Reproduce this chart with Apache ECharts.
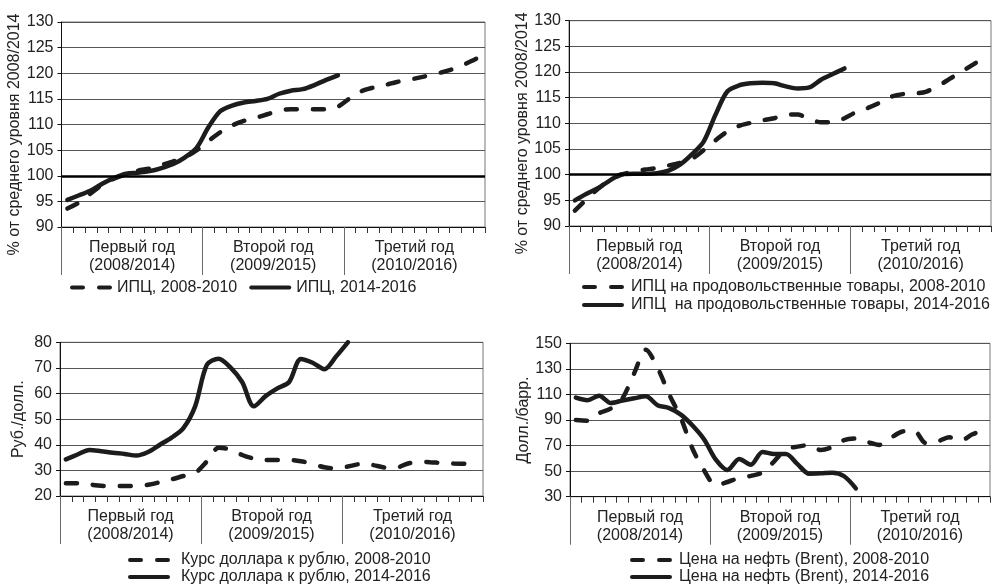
<!DOCTYPE html>
<html><head><meta charset="utf-8">
<script src="https://cdn.jsdelivr.net/npm/echarts@6/dist/echarts.min.js"></script>
<style>html,body{margin:0;padding:0;background:#fff}#c{width:994px;height:586px}</style>
</head><body><div id="c"></div>
<script>
// ---- data ----
const MONTHS = ['Янв','Фев','Мар','Апр','Май','Июн','Июл','Авг','Сен','Окт','Ноя','Дек'];
const CATEGORIES = [].concat(MONTHS.map(m => m + ' 1'), MONTHS.map(m => m + ' 2'), MONTHS.map(m => m + ' 3'));
const YEAR_LABELS = ['Первый год\n(2008/2014)', 'Второй год\n(2009/2015)', 'Третий год\n(2010/2016)'];

const cpi2008 = [93.6,94.8,96.6,98.3,99.5,100.3,101.0,101.4,102.1,102.8,103.6,105.0,106.8,108.5,109.8,110.7,111.3,112.0,112.7,113.0,113.0,113.0,113.0,113.5,115.1,116.5,117.2,117.7,118.3,118.7,119.2,119.7,120.3,121.0,122.0,123.1];
const cpi2014 = [95.3,96.2,97.1,98.5,99.6,100.4,100.6,100.9,101.5,102.3,103.6,105.5,109.5,112.6,113.7,114.3,114.6,115.0,116.0,116.6,116.9,117.7,118.7,119.6];
const food2008 = [93.0,95.2,97.3,99.0,100.0,100.6,101.0,101.3,101.8,102.3,103.1,104.8,106.7,108.4,109.5,110.1,110.6,111.0,111.7,111.7,110.9,110.2,110.2,111.0,112.2,113.0,114.0,115.2,115.7,115.8,116.2,117.3,118.7,120.1,121.5,123.0];
const food2014 = [95.0,96.3,97.4,98.9,100.1,100.2,100.2,100.3,100.8,102.0,104.0,106.5,111.7,116.2,117.4,117.8,117.9,117.8,117.2,116.8,117.0,118.5,119.6,120.7];
const usd2008 = [25.0,25.0,24.5,24.0,23.9,23.9,24.0,24.4,25.4,26.5,27.8,29.0,33.5,38.8,38.2,36.0,34.6,34.1,34.1,34.1,33.6,32.5,31.2,30.8,31.5,32.4,32.2,31.2,30.9,32.5,33.4,33.2,32.9,32.7,32.6,33.0];
const usd2014 = [34.3,36.2,38.0,37.5,36.9,36.4,35.8,37.2,40.0,42.8,46.5,55.0,71.2,73.6,70.2,64.5,55.0,59.0,62.0,64.5,73.5,72.0,69.5,74.5,80.0];
const oil2008 = [90.0,89.5,95.4,99.0,107.0,126.5,145.0,131.0,110.0,91.7,67.5,50.5,39.0,41.5,44.7,46.3,49.0,57.7,67.0,69.2,70.3,66.5,68.9,74.3,75.5,72.8,70.5,76.0,81.0,81.5,72.0,73.2,76.5,74.0,78.8,82.3];
const oil2014 = [107.5,105.5,109.0,103.3,105.3,107.0,108.5,101.6,99.3,94.2,85.7,74.8,59.0,50.9,59.5,55.0,65.0,63.4,63.4,55.5,48.0,48.3,48.8,46.0,36.5];
const BASE_LEVEL = 100;

const NAMES = {
  cpiA: 'ИПЦ, 2008-2010', cpiB: 'ИПЦ, 2014-2016',
  foodA: 'ИПЦ на продовольственные товары, 2008-2010', foodB: 'ИПЦ  на продовольственные товары, 2014-2016',
  usdA: 'Курс доллара к рублю, 2008-2010', usdB: 'Курс доллара к рублю, 2014-2016',
  oilA: 'Цена на нефть (Brent), 2008-2010', oilB: 'Цена на нефть (Brent), 2014-2016'
};

// ---- layout / style ----
const FONT = "'Liberation Sans', Arial, sans-serif";
const FS = 16;
const INK = '#1c1c1c';
const DASH_ICON = 'path://M2,0H13A2,2 0 0 1 13,4H2A2,2 0 0 1 2,0Z M29,0H40A2,2 0 0 1 40,4H29A2,2 0 0 1 29,0Z';
const SOLID_ICON = 'path://M2,0H40A2,2 0 0 1 40,4H2A2,2 0 0 1 2,0Z';

const panels = [
  { grid:{left:61.5, top:22, width:423.5, height:205}, y:{min:90,max:130,interval:5,name:'% от среднего уровня 2008/2014'},
    nameGap:33, namePad:[0,20,0,0],
    a:[NAMES.cpiA, cpi2008], b:[NAMES.cpiB, cpi2014], base:true,
    legend:{left:70, top:279, orient:'horizontal', itemGap:12}, textPad:0 },
  { grid:{left:569, top:20.7, width:422, height:205.3}, y:{min:90,max:130,interval:5,name:'% от среднего уровня 2008/2014'},
    nameGap:30, namePad:[0,20,0,0],
    a:[NAMES.foodA, food2008], b:[NAMES.foodB, food2014], base:true,
    legend:{left:582, top:278.5, orient:'vertical', itemGap:1}, textPad:2 },
  { grid:{left:60, top:342.3, width:423, height:153.7}, y:{min:20,max:80,interval:10,name:'Руб./долл.'},
    nameGap:33, namePad:[0,0,0,0],
    a:[NAMES.usdA, usd2008], b:[NAMES.usdB, usd2014], base:false,
    legend:{left:128, top:551.5, orient:'vertical', itemGap:0}, textPad:6 },
  { grid:{left:570, top:343.3, width:420, height:153.4}, y:{min:30,max:150,interval:20,name:'Долл./барр.'},
    nameGap:33, namePad:[0,0,0,0],
    a:[NAMES.oilA, oil2008], b:[NAMES.oilB, oil2014], base:false,
    legend:{left:630, top:551.5, orient:'vertical', itemGap:0}, textPad:2 }
];

const option = { animation:false, textStyle:{fontFamily:FONT}, grid:[], xAxis:[], yAxis:[], series:[], legend:[] };

panels.forEach((p, g) => {
  option.grid.push(Object.assign({show:true, borderColor:'#777', borderWidth:1, containLabel:false}, p.grid));
  option.xAxis.push({
    type:'category', gridIndex:g, data:CATEGORIES, boundaryGap:true, position:'bottom',
    axisLine:{show:true, lineStyle:{color:'#111', width:1}},
    axisTick:{show:true, interval:0, length:6, lineStyle:{color:'#333', width:1}},
    axisLabel:{show:false}, splitLine:{show:false}
  });
  option.xAxis.push({
    type:'value', gridIndex:g, min:0, max:36, position:'bottom',
    axisLine:{show:false}, splitLine:{show:false},
    axisTick:{show:true, customValues:[0,12,24], length:48, lineStyle:{color:'#6a6a6a', width:1}},
    axisLabel:{show:true, customValues:[6,18,30], formatter:v => YEAR_LABELS[Math.floor(v/12)],
      fontSize:FS, lineHeight:18, margin:12, color:'#222', fontFamily:FONT}
  });
  option.yAxis.push({
    type:'value', gridIndex:g, min:p.y.min, max:p.y.max, interval:p.y.interval,
    axisLine:{show:true, lineStyle:{color:'#111', width:1}},
    axisTick:{show:true, length:4, lineStyle:{color:'#111'}},
    axisLabel:{fontSize:FS, color:'#222', margin:8, fontFamily:FONT},
    splitLine:{show:true, lineStyle:{color:'#555', width:1}},
    name:p.y.name, nameLocation:'middle', nameGap:p.nameGap,
    nameTextStyle:{fontSize:FS, color:'#222', fontFamily:FONT, padding:p.namePad}
  });
  const common = {type:'line', xAxisIndex:2*g, yAxisIndex:g, smooth:0.3, symbol:'none', showSymbol:false,
    itemStyle:{color:INK}};
  const sA = Object.assign({}, common, {name:p.a[0], data:p.a[1], z:3,
    lineStyle:{color:INK, width:4.5, type:[11,16], cap:'round'}});
  if (p.base) {
    sA.markLine = {silent:true, symbol:'none', label:{show:false}, animation:false,
      lineStyle:{color:'#000', width:2.5, type:'solid'}, data:[{yAxis:BASE_LEVEL}]};
  }
  const sB = Object.assign({}, common, {name:p.b[0], data:p.b[1], z:4,
    lineStyle:{color:INK, width:4.5, type:'solid', cap:'round'}});
  option.series.push(sA, sB);
  option.legend.push(Object.assign({
    data:[{name:p.a[0], icon:DASH_ICON}, {name:p.b[0], icon:SOLID_ICON}],
    padding:0, itemWidth:42, itemHeight:4, selectedMode:false,
    textStyle:{fontSize:FS, color:'#222', fontFamily:FONT, lineHeight:17, padding:[0,0,0,p.textPad]}
  }, p.legend));
});

const chart = echarts.init(document.getElementById('c'), null, {renderer:'canvas'});
chart.setOption(option);
</script></body></html>
